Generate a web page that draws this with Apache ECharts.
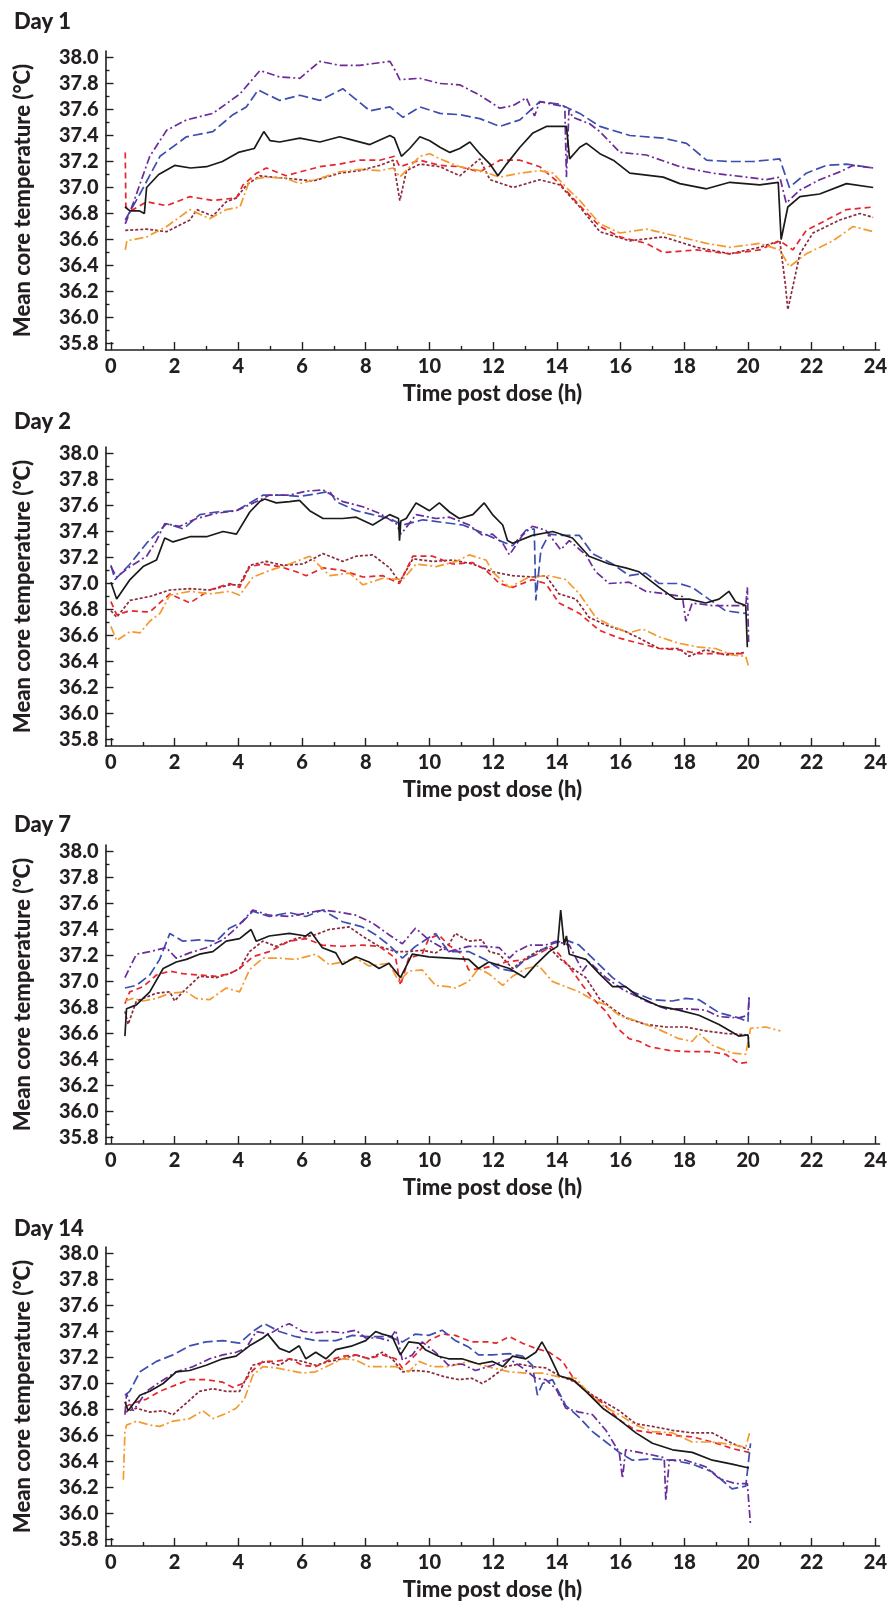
<!DOCTYPE html>
<html><head><meta charset="utf-8">
<script src="https://cdn.jsdelivr.net/npm/echarts@6/dist/echarts.min.js"></script>
<style>html,body{margin:0;padding:0;background:#fff}#c{width:890px;height:1611px}</style>
</head><body><div id="c"></div><script>
// ---------- tick labels ----------
const xMajor = [0,2,4,6,8,10,12,14,16,18,20,22,24];
const xMinor = [1,3,5,7,9,11,13,15,17,19,21,23];
const yMajor = [35.8,36.0,36.2,36.4,36.6,36.8,37.0,37.2,37.4,37.6,37.8,38.0];
const yMinor = [35.9,36.1,36.3,36.5,36.7,36.9,37.1,37.3,37.5,37.7,37.9];
const dayTitles = ['Day 1','Day 2','Day 7','Day 14'];
const xName = 'Time post dose (h)';
const yName = 'Mean core temperature (°C)';

// ---------- Day 1 ([time h, temperature °C]) ----------
const d1Black = [[0.44,36.85],[0.6,36.82],[0.9,36.82],[1.05,36.8],[1.12,37.0],[1.5,37.1],[2.0,37.17],[2.5,37.15],[3.0,37.16],[3.5,37.2],[4.0,37.27],[4.5,37.3],[4.8,37.43],[5.0,37.36],[5.3,37.35],[5.93,37.38],[6.56,37.35],[7.18,37.39],[7.5,37.37],[8.13,37.33],[8.76,37.4],[8.9,37.38],[9.12,37.24],[9.38,37.3],[9.7,37.39],[10.01,37.36],[10.33,37.31],[10.64,37.27],[10.95,37.3],[11.27,37.35],[11.58,37.26],[11.9,37.18],[12.15,37.09],[12.42,37.18],[12.84,37.31],[13.25,37.42],[13.67,37.47],[14.3,37.47],[14.4,37.22],[14.72,37.31],[14.93,37.34],[15.35,37.26],[15.77,37.21],[16.29,37.11],[17.34,37.08],[17.86,37.03],[18.7,36.99],[19.43,37.04],[20.37,37.02],[20.95,37.04],[21.04,36.6],[21.25,36.85],[21.63,36.93],[22.25,36.95],[23.09,37.03],[23.93,37.0]];
const d1Blue = [[0.45,36.75],[0.91,36.95],[1.54,37.24],[2.37,37.39],[3.2,37.43],[3.83,37.56],[4.25,37.62],[4.62,37.75],[5.3,37.67],[5.93,37.71],[6.56,37.67],[7.28,37.76],[8.13,37.59],[8.76,37.62],[9.17,37.54],[9.7,37.62],[10.33,37.57],[10.95,37.56],[11.58,37.53],[12.21,37.47],[12.84,37.52],[13.46,37.66],[14.09,37.64],[14.72,37.57],[15.35,37.47],[16.29,37.4],[17.34,37.38],[18.07,37.34],[18.7,37.21],[19.43,37.2],[20.16,37.2],[21.0,37.22],[21.3,37.0],[21.83,37.11],[22.46,37.17],[23.09,37.18],[23.93,37.15]];
const d1Purple = [[0.45,36.72],[0.7,36.88],[1.22,37.24],[1.75,37.44],[2.37,37.52],[3.2,37.57],[4.05,37.72],[4.68,37.9],[5.3,37.85],[5.93,37.84],[6.56,37.97],[7.18,37.94],[7.81,37.94],[8.44,37.96],[8.76,37.97],[8.97,37.88],[9.07,37.83],[9.7,37.84],[10.33,37.8],[10.95,37.79],[11.58,37.71],[12.21,37.61],[12.63,37.63],[13.04,37.69],[13.3,37.55],[13.46,37.66],[14.09,37.63],[14.25,37.62],[14.3,37.08],[14.38,37.6],[14.5,37.54],[15.03,37.49],[15.35,37.43],[15.98,37.27],[16.81,37.25],[17.86,37.16],[18.9,37.11],[19.95,37.08],[20.58,37.06],[21.0,37.08],[21.2,36.88],[21.63,36.98],[22.25,37.06],[22.88,37.12],[23.3,37.17],[23.93,37.15]];
const d1Red = [[0.45,37.27],[0.47,36.85],[0.7,36.83],[1.12,36.89],[1.75,36.86],[2.48,36.93],[3.2,36.9],[3.94,36.92],[4.15,37.02],[4.57,37.11],[4.88,37.15],[5.5,37.09],[5.93,37.12],[6.56,37.16],[7.18,37.18],[7.81,37.21],[8.44,37.21],[8.9,37.24],[9.07,37.16],[9.7,37.21],[10.33,37.17],[10.95,37.16],[11.58,37.12],[12.21,37.21],[12.84,37.21],[13.46,37.16],[14.09,37.03],[14.72,36.86],[15.35,36.7],[15.98,36.62],[16.81,36.57],[17.34,36.5],[18.38,36.52],[19.43,36.49],[20.37,36.52],[21.0,36.59],[21.41,36.52],[21.83,36.67],[22.46,36.75],[23.09,36.83],[23.93,36.85]];
const d1Maroon = [[0.45,36.67],[1.12,36.68],[1.75,36.66],[2.48,36.75],[2.7,36.83],[3.2,36.78],[3.62,36.89],[3.94,36.92],[4.26,37.02],[4.68,37.09],[5.5,37.07],[6.35,37.05],[7.18,37.11],[7.81,37.13],[8.44,37.17],[8.86,37.21],[9.07,36.9],[9.28,37.13],[9.7,37.18],[10.33,37.16],[10.95,37.09],[11.58,37.22],[11.9,37.06],[12.63,37.0],[13.46,37.06],[14.09,37.02],[14.72,36.85],[15.35,36.66],[16.29,36.59],[17.34,36.62],[18.38,36.54],[19.43,36.49],[20.37,36.54],[21.0,36.59],[21.18,36.24],[21.25,36.06],[21.41,36.24],[21.63,36.49],[22.04,36.65],[22.88,36.75],[23.51,36.8],[23.93,36.77]];
const d1Orange = [[0.45,36.52],[0.5,36.59],[1.12,36.62],[1.75,36.7],[2.48,36.83],[3.1,36.76],[3.62,36.83],[4.05,36.85],[4.36,37.06],[4.88,37.08],[5.5,37.07],[5.93,37.03],[6.56,37.07],[7.18,37.12],[7.81,37.14],[8.44,37.13],[8.86,37.15],[9.07,37.08],[9.7,37.24],[10.01,37.26],[10.33,37.22],[10.95,37.16],[11.58,37.13],[12.21,37.08],[12.84,37.11],[13.46,37.13],[13.88,37.11],[14.3,37.0],[14.72,36.9],[15.35,36.72],[15.98,36.65],[16.81,36.68],[17.86,36.62],[18.7,36.57],[19.43,36.54],[20.37,36.57],[21.0,36.52],[21.3,36.39],[21.83,36.49],[22.67,36.59],[23.3,36.7],[23.93,36.66]];

// ---------- Day 2 ----------
const d2Black = [[0.0,37.01],[0.18,36.88],[0.6,37.03],[1.01,37.13],[1.43,37.18],[1.69,37.35],[1.95,37.32],[2.48,37.36],[3.0,37.36],[3.52,37.4],[3.94,37.38],[4.36,37.55],[4.67,37.63],[4.83,37.65],[5.19,37.62],[5.61,37.63],[5.92,37.64],[6.24,37.56],[6.66,37.5],[7.28,37.5],[7.7,37.51],[8.22,37.45],[8.75,37.53],[9.03,37.5],[9.06,37.33],[9.1,37.48],[9.27,37.5],[9.58,37.62],[10.0,37.56],[10.31,37.62],[10.63,37.55],[10.94,37.5],[11.36,37.53],[11.72,37.62],[11.98,37.53],[12.3,37.45],[12.45,37.33],[12.61,37.31],[13.23,37.37],[13.87,37.4],[14.49,37.35],[15.01,37.21],[15.64,37.15],[16.16,37.12],[16.58,37.09],[17.21,36.97],[17.73,36.88],[18.15,36.88],[18.67,36.85],[19.09,36.88],[19.4,36.94],[19.61,36.86],[19.93,36.83],[19.98,36.51]];
const d2Blue = [[0.0,37.14],[0.13,37.03],[0.6,37.15],[1.12,37.31],[1.54,37.41],[1.75,37.46],[2.27,37.42],[2.79,37.53],[3.31,37.55],[3.94,37.56],[4.36,37.62],[4.78,37.68],[5.4,37.68],[5.92,37.67],[6.45,37.69],[6.87,37.71],[7.07,37.63],[7.7,37.56],[8.22,37.53],[8.75,37.5],[9.16,37.45],[9.79,37.49],[10.42,37.47],[11.05,37.45],[11.57,37.4],[12.2,37.33],[12.61,37.29],[13.03,37.41],[13.29,37.42],[13.34,36.87],[13.5,37.26],[13.76,37.38],[14.18,37.37],[14.71,37.37],[15.12,37.23],[15.75,37.15],[16.27,37.06],[16.79,37.08],[17.21,37.0],[17.83,37.0],[18.25,36.97],[18.77,36.88],[19.3,36.79],[19.93,36.77]];
const d2Purple = [[0.0,37.13],[0.18,37.05],[0.6,37.13],[1.12,37.21],[1.43,37.33],[1.69,37.46],[2.16,37.44],[2.69,37.5],[3.31,37.54],[3.94,37.56],[4.57,37.63],[4.98,37.68],[5.61,37.68],[6.13,37.71],[6.66,37.72],[7.28,37.63],[7.91,37.59],[8.43,37.54],[8.96,37.46],[9.11,37.38],[9.58,37.53],[10.21,37.5],[10.63,37.51],[11.25,37.45],[11.67,37.37],[11.98,37.38],[12.3,37.31],[12.51,37.22],[12.92,37.37],[13.23,37.44],[13.65,37.41],[14.12,37.26],[14.39,37.33],[14.91,37.22],[15.22,37.09],[15.64,37.0],[16.27,37.01],[16.79,36.94],[17.42,36.92],[17.94,36.9],[18.05,36.71],[18.25,36.85],[18.88,36.83],[19.5,36.83],[19.93,36.83],[19.98,36.97],[20.02,36.55]];
const d2Red = [[0.0,36.86],[0.18,36.76],[0.6,36.79],[1.22,36.78],[1.85,36.92],[2.48,36.85],[3.1,36.95],[3.73,37.0],[4.04,36.97],[4.36,37.13],[4.78,37.15],[5.3,37.13],[5.82,37.09],[6.13,37.06],[6.66,37.12],[7.28,37.1],[7.91,37.05],[8.54,37.06],[9.06,37.0],[9.48,37.21],[10.1,37.21],[10.73,37.15],[11.36,37.16],[11.78,37.1],[12.2,37.0],[12.61,36.97],[13.23,37.03],[13.65,37.0],[14.07,36.85],[14.71,36.77],[15.33,36.64],[15.96,36.58],[16.58,36.54],[17.21,36.5],[17.83,36.49],[18.46,36.46],[19.09,36.46],[19.93,36.46]];
const d2Maroon = [[0.0,36.79],[0.18,36.74],[0.6,36.87],[1.22,36.9],[1.85,36.95],[2.48,36.96],[3.1,36.95],[3.73,36.99],[4.04,36.99],[4.36,37.14],[4.88,37.17],[5.4,37.14],[6.03,37.15],[6.66,37.23],[7.28,37.17],[7.7,37.21],[8.22,37.22],[8.75,37.12],[9.06,37.01],[9.48,37.19],[10.1,37.17],[10.73,37.18],[11.36,37.15],[11.98,37.09],[12.61,37.06],[13.23,37.05],[13.65,37.06],[14.07,36.92],[14.6,36.88],[15.01,36.74],[15.54,36.68],[16.16,36.63],[16.58,36.58],[17.21,36.5],[17.83,36.5],[18.15,36.44],[18.67,36.49],[19.3,36.45],[19.93,36.47]];
const d2Orange = [[0.0,36.67],[0.18,36.56],[0.6,36.63],[0.91,36.62],[1.22,36.71],[1.54,36.77],[1.85,36.91],[2.48,36.94],[3.1,36.92],[3.73,36.94],[4.04,36.91],[4.46,37.05],[4.98,37.1],[5.61,37.15],[6.24,37.21],[6.87,37.06],[7.49,37.08],[7.91,36.99],[8.54,37.04],[9.16,37.03],[9.58,37.15],[10.21,37.13],[10.84,37.17],[11.25,37.22],[11.78,37.18],[11.98,37.09],[12.51,36.97],[13.13,37.05],[13.76,37.06],[14.28,37.03],[14.71,36.92],[15.22,36.74],[15.75,36.67],[16.27,36.62],[16.69,36.65],[17.21,36.59],[17.83,36.54],[18.46,36.51],[18.98,36.5],[19.5,36.45],[19.93,36.44],[20.02,36.36]];

// ---------- Day 7 ----------
const d7Black = [[0.44,36.58],[0.49,36.79],[0.8,36.82],[1.22,36.92],[1.64,37.1],[2.05,37.15],[2.37,37.17],[2.78,37.21],[3.2,37.23],[3.62,37.31],[4.04,37.33],[4.4,37.4],[4.56,37.31],[4.97,37.35],[5.6,37.37],[6.12,37.35],[6.28,37.38],[6.64,37.26],[7.06,37.22],[7.27,37.13],[7.69,37.19],[8.1,37.15],[8.42,37.1],[8.73,37.14],[9.09,37.03],[9.46,37.21],[9.98,37.19],[10.6,37.18],[11.23,37.17],[11.54,37.1],[11.86,37.15],[12.51,37.1],[12.98,37.03],[13.34,37.13],[13.76,37.23],[14.02,37.27],[14.12,37.55],[14.23,37.28],[14.3,37.35],[14.39,37.21],[14.91,37.17],[15.33,37.06],[15.75,36.96],[16.16,36.96],[16.58,36.88],[17.21,36.81],[17.83,36.78],[18.46,36.74],[19.09,36.67],[19.71,36.58],[20.0,36.59],[20.03,36.49]];
const d7Blue = [[0.44,36.95],[0.8,36.97],[1.22,37.05],[1.53,37.17],[1.85,37.37],[2.26,37.31],[2.78,37.32],[3.31,37.31],[3.72,37.41],[4.14,37.46],[4.45,37.54],[4.97,37.5],[5.6,37.53],[6.12,37.5],[6.64,37.55],[7.27,37.46],[7.89,37.42],[8.31,37.36],[8.73,37.28],[9.15,37.18],[9.56,37.27],[10.19,37.37],[10.6,37.23],[11.23,37.23],[11.75,37.17],[12.19,37.1],[12.61,37.08],[12.92,37.15],[13.44,37.23],[13.86,37.29],[14.28,37.32],[14.7,37.28],[15.12,37.18],[15.75,37.03],[16.37,36.92],[17.0,36.86],[17.62,36.85],[18.04,36.87],[18.46,36.86],[19.09,36.76],[19.71,36.72],[20.0,36.69],[20.04,36.9]];
const d7Purple = [[0.44,37.03],[0.8,37.21],[1.22,37.23],[1.74,37.26],[2.05,37.18],[2.47,37.22],[2.99,37.26],[3.51,37.32],[3.93,37.41],[4.45,37.55],[4.97,37.51],[5.6,37.5],[6.23,37.53],[6.64,37.55],[7.27,37.53],[7.69,37.51],[8.21,37.45],[8.73,37.36],[9.15,37.29],[9.56,37.41],[9.98,37.32],[10.6,37.23],[11.23,37.27],[11.75,37.27],[12.19,37.26],[12.51,37.18],[12.72,37.23],[13.13,37.28],[13.65,37.28],[13.97,37.31],[14.39,37.28],[14.81,37.08],[15.02,37.15],[15.54,37.03],[16.06,36.94],[16.79,36.85],[17.42,36.79],[18.04,36.79],[18.67,36.78],[19.09,36.73],[19.71,36.72],[20.0,36.74],[20.04,36.9]];
const d7Red = [[0.44,36.83],[0.59,36.92],[1.01,36.96],[1.43,37.05],[1.85,37.08],[2.26,37.06],[2.78,37.05],[3.31,37.04],[3.72,37.06],[4.04,37.1],[4.45,37.19],[4.97,37.23],[5.6,37.31],[6.12,37.33],[6.64,37.28],[7.27,37.27],[7.89,37.28],[8.42,37.27],[8.94,37.18],[9.09,36.97],[9.35,37.18],[9.77,37.21],[9.98,37.33],[10.29,37.36],[10.6,37.28],[11.02,37.21],[11.23,37.09],[11.65,37.1],[11.98,37.12],[12.4,37.15],[13.03,37.17],[13.55,37.23],[13.81,37.27],[14.07,37.21],[14.49,37.08],[14.81,36.97],[15.12,36.87],[15.54,36.77],[15.86,36.65],[16.27,36.56],[16.58,36.54],[16.9,36.5],[17.52,36.47],[18.15,36.46],[18.77,36.46],[19.3,36.44],[19.71,36.37],[20.03,36.38]];
const d7Maroon = [[0.44,36.77],[0.54,36.67],[0.8,36.85],[1.43,36.91],[1.85,36.92],[2.0,36.85],[2.26,36.92],[2.78,37.04],[3.31,37.03],[3.72,37.06],[4.04,37.1],[4.35,37.23],[4.77,37.31],[5.18,37.27],[5.81,37.33],[6.43,37.36],[6.85,37.4],[7.48,37.42],[7.89,37.35],[8.42,37.27],[8.94,37.23],[9.35,37.23],[9.77,37.24],[10.19,37.22],[10.6,37.28],[10.81,37.37],[11.23,37.31],[11.65,37.32],[11.88,37.23],[12.19,37.21],[12.61,37.1],[13.03,37.18],[13.44,37.24],[13.76,37.26],[14.07,37.18],[14.49,37.1],[14.91,37.03],[15.33,36.87],[15.75,36.79],[16.16,36.72],[16.79,36.67],[17.42,36.65],[18.04,36.65],[18.67,36.62],[19.3,36.6],[19.93,36.59]];
const d7Orange = [[0.44,36.85],[0.7,36.87],[1.01,36.85],[1.43,36.87],[1.85,36.91],[2.37,36.92],[2.68,36.87],[3.1,36.86],[3.62,36.95],[4.04,36.92],[4.35,37.09],[4.77,37.18],[5.29,37.18],[5.81,37.17],[6.43,37.21],[6.85,37.13],[7.27,37.15],[7.69,37.18],[8.1,37.12],[8.73,37.14],[9.04,37.0],[9.35,37.08],[9.77,37.09],[10.19,36.97],[10.6,36.96],[10.81,36.95],[11.23,37.0],[11.54,37.1],[11.86,37.06],[12.3,36.97],[12.61,37.04],[13.03,37.1],[13.44,37.12],[13.86,37.0],[14.28,36.96],[14.7,36.92],[15.12,36.86],[15.54,36.82],[15.96,36.74],[16.58,36.69],[17.21,36.63],[17.83,36.56],[18.25,36.54],[18.46,36.6],[18.88,36.51],[19.5,36.45],[19.93,36.44],[20.08,36.64],[20.55,36.65],[21.02,36.62]];

// ---------- Day 14 ----------
const d14Black = [[0.44,36.86],[0.54,36.79],[0.91,36.91],[1.22,36.94],[1.64,37.0],[2.05,37.09],[2.47,37.1],[2.99,37.14],[3.51,37.19],[3.93,37.21],[4.35,37.29],[4.77,37.35],[4.92,37.38],[5.29,37.27],[5.6,37.24],[5.91,37.29],[6.12,37.19],[6.43,37.24],[6.75,37.19],[7.06,37.26],[7.58,37.29],[8.0,37.33],[8.31,37.4],[8.52,37.38],[8.83,37.36],[9.09,37.22],[9.35,37.32],[9.67,37.31],[9.87,37.26],[10.29,37.21],[10.6,37.19],[11.02,37.19],[11.54,37.15],[11.98,37.17],[12.3,37.13],[12.61,37.21],[13.03,37.19],[13.34,37.24],[13.53,37.32],[13.76,37.22],[14.07,37.06],[14.49,37.03],[14.91,36.94],[15.44,36.81],[15.96,36.72],[16.48,36.62],[17.0,36.54],[17.63,36.49],[18.25,36.47],[18.88,36.41],[19.5,36.38],[20.03,36.35]];
const d14Blue = [[0.44,36.91],[0.59,36.94],[0.91,37.09],[1.43,37.17],[1.95,37.22],[2.47,37.29],[2.99,37.32],[3.51,37.33],[4.04,37.31],[4.45,37.4],[4.82,37.46],[5.29,37.4],[5.81,37.36],[6.43,37.33],[7.06,37.33],[7.58,37.37],[8.1,37.36],[8.73,37.36],[9.15,37.32],[9.56,37.38],[9.98,37.37],[10.4,37.41],[10.81,37.33],[11.23,37.28],[11.54,37.22],[11.98,37.22],[12.51,37.23],[12.92,37.21],[13.23,37.14],[13.39,36.91],[13.55,37.0],[13.86,37.03],[14.28,36.83],[14.7,36.74],[15.12,36.63],[15.54,36.55],[15.96,36.47],[16.37,36.41],[17.0,36.42],[17.63,36.41],[18.25,36.38],[18.88,36.32],[19.5,36.19],[19.93,36.21],[20.08,36.54]];
const d14Purple = [[0.44,36.76],[0.49,36.92],[0.7,36.79],[1.12,36.94],[1.53,37.01],[2.05,37.09],[2.58,37.13],[3.1,37.19],[3.51,37.22],[3.93,37.24],[4.24,37.27],[4.56,37.4],[4.97,37.38],[5.39,37.44],[5.6,37.46],[6.02,37.4],[6.43,37.39],[6.85,37.4],[7.27,37.39],[7.69,37.41],[8.0,37.35],[8.42,37.35],[8.73,37.33],[8.94,37.41],[9.15,37.18],[9.46,37.22],[9.77,37.32],[10.19,37.24],[10.6,37.14],[11.02,37.15],[11.44,37.1],[11.98,37.14],[12.51,37.19],[12.92,37.12],[13.34,37.04],[13.65,37.03],[13.97,36.96],[14.28,36.81],[14.7,36.78],[15.12,36.76],[15.54,36.64],[15.96,36.47],[16.06,36.27],[16.16,36.49],[16.58,36.47],[17.0,36.45],[17.37,36.43],[17.42,36.1],[17.53,36.41],[18.04,36.41],[18.67,36.36],[19.09,36.27],[19.61,36.23],[19.98,36.23],[20.08,35.91]];
const d14Red = [[0.44,36.82],[0.7,36.85],[1.12,36.88],[1.53,36.94],[2.05,36.99],[2.47,37.03],[2.99,37.03],[3.51,37.01],[3.83,36.97],[4.14,37.0],[4.45,37.1],[4.77,37.17],[5.18,37.17],[5.6,37.19],[6.02,37.14],[6.43,37.13],[6.85,37.18],[7.27,37.21],[7.69,37.22],[8.1,37.19],[8.52,37.22],[8.94,37.19],[9.15,37.12],[9.56,37.22],[9.98,37.33],[10.4,37.38],[10.81,37.37],[11.33,37.32],[11.86,37.32],[12.09,37.31],[12.51,37.36],[12.92,37.31],[13.34,37.27],[13.76,37.24],[14.18,37.17],[14.6,37.01],[15.01,36.92],[15.44,36.85],[15.96,36.72],[16.48,36.64],[17.0,36.62],[17.63,36.6],[18.25,36.59],[18.88,36.55],[19.5,36.5],[20.03,36.47]];
const d14Maroon = [[0.44,36.78],[0.8,36.81],[1.22,36.78],[1.64,36.79],[1.95,36.76],[2.37,36.85],[2.78,36.94],[3.2,36.96],[3.62,36.94],[4.04,36.94],[4.45,37.14],[4.87,37.17],[5.29,37.14],[5.6,37.19],[6.02,37.17],[6.43,37.14],[6.85,37.17],[7.27,37.19],[7.69,37.22],[8.1,37.19],[8.52,37.24],[8.83,37.19],[9.15,37.09],[9.56,37.1],[9.98,37.09],[10.5,37.05],[10.92,37.03],[11.33,37.04],[11.65,37.0],[11.86,37.03],[12.4,37.13],[12.82,37.15],[13.23,37.13],[13.65,37.12],[14.07,37.06],[14.6,37.01],[15.12,36.91],[15.54,36.85],[15.96,36.79],[16.48,36.69],[17.0,36.67],[17.63,36.64],[18.25,36.62],[18.88,36.62],[19.5,36.54],[20.03,36.49]];
const d14Orange = [[0.39,36.26],[0.44,36.63],[0.49,36.68],[0.8,36.71],[1.22,36.68],[1.53,36.67],[1.95,36.71],[2.47,36.73],[2.89,36.79],[3.2,36.73],[3.62,36.77],[3.93,36.81],[4.19,36.88],[4.45,37.06],[4.77,37.13],[5.18,37.12],[5.6,37.1],[6.02,37.08],[6.43,37.09],[6.85,37.14],[7.27,37.19],[7.69,37.18],[8.1,37.13],[8.94,37.13],[9.35,37.09],[9.67,37.17],[10.08,37.13],[10.6,37.13],[11.23,37.17],[11.98,37.12],[12.51,37.09],[13.03,37.08],[13.55,37.08],[14.07,37.05],[14.6,37.04],[15.01,36.92],[15.44,36.83],[15.96,36.76],[16.48,36.68],[17.0,36.63],[17.63,36.62],[18.25,36.55],[18.88,36.55],[19.5,36.53],[19.93,36.51],[20.05,36.62]];

// ---------- assembly ----------
const panels = [
  [d1Maroon, d1Red, d1Orange, d1Blue, d1Purple, d1Black],
  [d2Maroon, d2Red, d2Orange, d2Blue, d2Purple, d2Black],
  [d7Maroon, d7Red, d7Orange, d7Blue, d7Purple, d7Black],
  [d14Maroon, d14Red, d14Orange, d14Blue, d14Purple, d14Black]
];
const lineStyles = [
  {color:'#8c2a3c', type:[3,2]},
  {color:'#e8252b', type:[6,4]},
  {color:'#f39a2e', type:[9,3,2,3]},
  {color:'#3d4fae', type:[10,4]},
  {color:'#6b2c9a', type:[8,3,2,3]},
  {color:'#1a1a1a', type:'solid'}
];
const FONT = 'Lato';
const INK = '#231f20';
const gridTops = [51, 447, 845, 1247];
const titleTops = [6, 406, 809, 1213];

const grid = [], xAxis = [], yAxis = [], series = [], title = [];
gridTops.forEach((top, i) => {
  grid.push({left:105.5, top:top, width:774.5, height:299});
  title.push({text: dayTitles[i], left: 9, top: titleTops[i],
    textStyle:{fontFamily:FONT, fontWeight:900, fontSize:22, color:INK}});
  const xBase = {gridIndex:i, type:'value', min:-0.17, max:24.13, position:'bottom', splitLine:{show:false}};
  xAxis.push(Object.assign({}, xBase, {
    axisLine:{show:true, onZero:false, lineStyle:{color:INK, width:1.6}},
    axisTick:{show:true, inside:true, length:8, customValues:xMajor, lineStyle:{color:INK, width:1.4}},
    axisLabel:{customValues:xMajor, margin:7, fontFamily:FONT, fontWeight:900, fontSize:20, color:INK},
    name:xName, nameLocation:'middle', nameGap:33,
    nameTextStyle:{fontFamily:FONT, fontWeight:900, fontSize:22, color:INK}
  }));
  xAxis.push(Object.assign({}, xBase, {
    axisLine:{show:false, onZero:false},
    axisTick:{show:true, inside:true, length:4, customValues:xMinor, lineStyle:{color:INK, width:1.4}},
    axisLabel:{show:false}
  }));
  const yBase = {gridIndex:i, type:'value', min:35.75, max:38.05, position:'left', splitLine:{show:false}};
  yAxis.push(Object.assign({}, yBase, {
    axisLine:{show:true, onZero:false, lineStyle:{color:INK, width:1.6}},
    axisTick:{show:true, inside:true, length:8, customValues:yMajor, lineStyle:{color:INK, width:1.4}},
    axisLabel:{customValues:yMajor, margin:7, formatter:v => v.toFixed(1),
      fontFamily:FONT, fontWeight:900, fontSize:20, color:INK},
    name:yName, nameLocation:'middle', nameGap:72, nameRotate:90,
    nameTextStyle:{fontFamily:FONT, fontWeight:900, fontSize:22, color:INK}
  }));
  yAxis.push(Object.assign({}, yBase, {
    axisLine:{show:false, onZero:false},
    axisTick:{show:true, inside:true, length:4, customValues:yMinor, lineStyle:{color:INK, width:1.4}},
    axisLabel:{show:false}
  }));
  panels[i].forEach((d, k) => {
    series.push({type:'line', xAxisIndex:i*2, yAxisIndex:i*2, data:d,
      showSymbol:false, symbol:'none', smooth:false,
      lineStyle:{color:lineStyles[k].color, type:lineStyles[k].type, width:1.7},
      z: 2 + k});
  });
});

const chart = echarts.init(document.getElementById('c'), null, {renderer:'canvas'});
chart.setOption({animation:false, backgroundColor:'#ffffff', title, grid, xAxis, yAxis, series});
</script></body></html>
